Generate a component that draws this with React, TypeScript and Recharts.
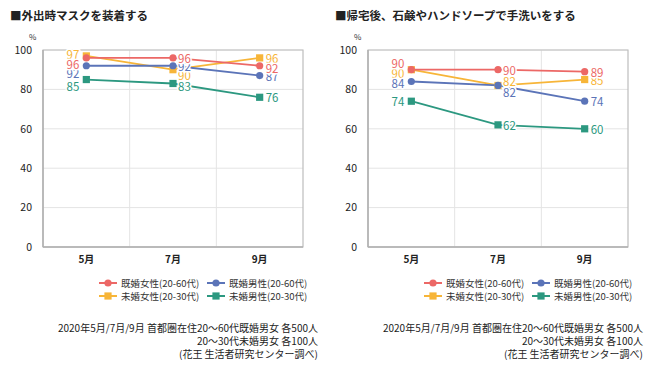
import React from 'react';
import { LineChart, Line, XAxis, YAxis, CartesianGrid, ReferenceArea, LabelList } from 'recharts';

const months = ['5月', '7月', '9月'];
const yTicks = [0, 20, 40, 60, 80, 100];

const seriesNames = ['既婚女性(20-60代)', '既婚男性(20-60代)', '未婚女性(20-30代)', '未婚男性(20-30代)'];

// Chart 1: 外出時マスクを装着する
const maskMarriedFemale = [96, 96, 92];
const maskMarriedMale = [92, 92, 87];
const maskSingleFemale = [97, 90, 96];
const maskSingleMale = [85, 83, 76];

// Chart 2: 帰宅後、石鹸やハンドソープで手洗いをする
const washMarriedFemale = [90, 90, 89];
const washMarriedMale = [84, 82, 74];
const washSingleFemale = [90, 82, 85];
const washSingleMale = [74, 62, 60];

const title1 = '■外出時マスクを装着する';
const title2 = '■帰宅後、石鹸やハンドソープで手洗いをする';
const footLines = ['2020年5月/7月/9月 首都圏在住20～60代既婚男女 各500人', '20～30代未婚男女 各100人', '(花王 生活者研究センター調べ)'];

const COLORS = { mf: '#EC6866', mm: '#5B74B8', sf: '#F7B538', sm: '#2C9880' };
const FONT = '"Noto Sans CJK JP", "Noto Sans", sans-serif';

// label placement config: [dx, dy, anchor] per point
type LP = [number, number, 'start' | 'end'];
const labelPos1: Record<string, LP[]> = {
  mf: [[-7, 6, 'end'], [5, 0, 'start'], [6, 2, 'start']],
  mm: [[-7, 7, 'end'], [5, 0, 'start'], [6, 0, 'start']],
  sf: [[-7, -2, 'end'], [5, 5, 'start'], [6, 0, 'start']],
  sm: [[-7, 6, 'end'], [5, 3, 'start'], [6, 0, 'start']],
};
const labelPos2: Record<string, LP[]> = {
  mf: [[-7, -7, 'end'], [5, 0, 'start'], [6, 0, 'start']],
  mm: [[-7, 1.5, 'end'], [5, 6.5, 'start'], [6, 0, 'start']],
  sf: [[-7, 3.5, 'end'], [5, -4.5, 'start'], [6, 0, 'start']],
  sm: [[-7, 0, 'end'], [5, 0, 'start'], [6, 0, 'start']],
};

const buildRows = (mf: number[], mm: number[], sf: number[], sm: number[]) =>
  months.map((m, i) => ({ month: m, mf: mf[i], mm: mm[i], sf: sf[i], sm: sm[i] }));

const data1 = buildRows(maskMarriedFemale, maskMarriedMale, maskSingleFemale, maskSingleMale);
const data2 = buildRows(washMarriedFemale, washMarriedMale, washSingleFemale, washSingleMale);

const circleDot = (color: string) => (p: any) => (
  <circle key={`c-${p.index}`} cx={p.cx} cy={p.cy} r={3.6} fill={color} stroke="none" />
);
const squareDot = (color: string) => (p: any) => (
  <rect key={`s-${p.index}`} x={p.cx - 3.6} y={p.cy - 3.6} width={7.2} height={7.2} fill={color} stroke="none" />
);

const makeLabel = (color: string, pos: LP[]) => (p: any) => {
  const { x, y, value, index } = p;
  const [dx, dy, anchor] = pos[index];
  return (
    <text
      x={x + dx}
      y={y + dy}
      textAnchor={anchor}
      dominantBaseline="central"
      fontSize={11.5}
      fontFamily={FONT}
      fill={color}
      stroke="#fff"
      strokeWidth={3}
      paintOrder="stroke"
      strokeLinejoin="round"
    >
      {value}
    </text>
  );
};

const LegendIcon = ({ color, square }: { color: string; square: boolean }) => (
  <svg width={18} height={10} style={{ position: 'absolute', left: 0, top: 0 }}>
    <line x1={0} y1={5} x2={18} y2={5} stroke={color} strokeWidth={2} />
    {square ? <rect x={5.4} y={1.4} width={7.2} height={7.2} fill={color} /> : <circle cx={9} cy={5} r={3.6} fill={color} />}
  </svg>
);

const keys = ['mf', 'mm', 'sf', 'sm'] as const;
const isSquare = { mf: false, mm: false, sf: true, sm: true };

const Panel = ({ left, title, data, pos }: { left: number; title: string; data: any[]; pos: Record<string, LP[]> }) => {
  const drawOrder = ['sf', 'sm', 'mm', 'mf'] as const;
  return (
    <div style={{ position: 'absolute', left, top: 0, width: 325, height: 368 }}>
      <div style={{ position: 'absolute', left: 10, top: 7, fontSize: 11.5, fontWeight: 700, color: '#222', whiteSpace: 'nowrap', lineHeight: '16px' }}>
        {title}
      </div>
      <div style={{ position: 'absolute', left: 29, top: 32, fontSize: 8, color: '#333', lineHeight: '10px' }}>%</div>
      <div style={{ position: 'absolute', left: 0, top: 0 }}>
        <LineChart width={325} height={368} data={data} margin={{ top: 50, right: 22, bottom: 91, left: 0 }}>
          <CartesianGrid
            stroke="#e4e4e4"
            strokeWidth={1}
            verticalCoordinatesGenerator={({ offset }: any) => [offset.left + offset.width / 3, offset.left + (2 * offset.width) / 3]}
          />
          <ReferenceArea y1={0} y2={100} fill="none" stroke="#bdbdbd" strokeWidth={1.2} ifOverflow="visible" />
          <XAxis
            dataKey="month"
            scale="band"
            height={30}
            tickLine={false}
            axisLine={{ stroke: '#b0b0b0', strokeWidth: 1.5 }}
            tick={{ fontSize: 10, fontWeight: 700, fill: '#222', fontFamily: FONT }}
            tickMargin={3}
            interval={0}
          />
          <YAxis
            domain={[0, 100]}
            ticks={yTicks}
            width={43}
            tickLine={false}
            axisLine={{ stroke: '#b0b0b0', strokeWidth: 1.5 }}
            tick={{ fontSize: 10.5, fill: '#222', fontFamily: FONT }}
            tickMargin={5}
            interval={0}
          />
          {drawOrder.map((k) => (
            <Line
              key={k}
              dataKey={k}
              stroke={COLORS[k]}
              strokeWidth={1.8}
              dot={isSquare[k] ? squareDot(COLORS[k]) : circleDot(COLORS[k])}
              activeDot={false}
              isAnimationActive={false}
            />
          ))}
          {drawOrder.map((k) => (
            <Line key={`lbl-${k}`} dataKey={k} stroke="none" dot={false} activeDot={false} isAnimationActive={false} legendType="none">
              <LabelList dataKey={k} content={makeLabel(COLORS[k], pos[k])} />
            </Line>
          ))}
        </LineChart>
      </div>
      {keys.map((k, i) => {
        const col = i % 2;
        const row = Math.floor(i / 2);
        return (
          <div
            key={k}
            style={{ position: 'absolute', left: col === 0 ? 99 : 207, top: 278 + row * 13, height: 10, width: 110, fontSize: 9.5, color: '#333', whiteSpace: 'nowrap' }}
          >
            <LegendIcon color={COLORS[k]} square={isSquare[k]} />
            <span style={{ position: 'absolute', left: 22, top: -1, lineHeight: '12px' }}>{seriesNames[i]}</span>
          </div>
        );
      })}
      <div style={{ position: 'absolute', right: 7, top: 321, fontSize: 10, lineHeight: '13px', color: '#222', textAlign: 'right', whiteSpace: 'nowrap' }}>
        {footLines.map((l) => (
          <div key={l}>{l}</div>
        ))}
      </div>
    </div>
  );
};

export default function App() {
  return (
    <div style={{ position: 'absolute', left: 0, top: 0, width: 650, height: 368, background: '#fff', fontFamily: FONT, overflow: 'hidden' }}>
      <Panel left={0} title={title1} data={data1} pos={labelPos1} />
      <Panel left={325} title={title2} data={data2} pos={labelPos2} />
    </div>
  );
}
